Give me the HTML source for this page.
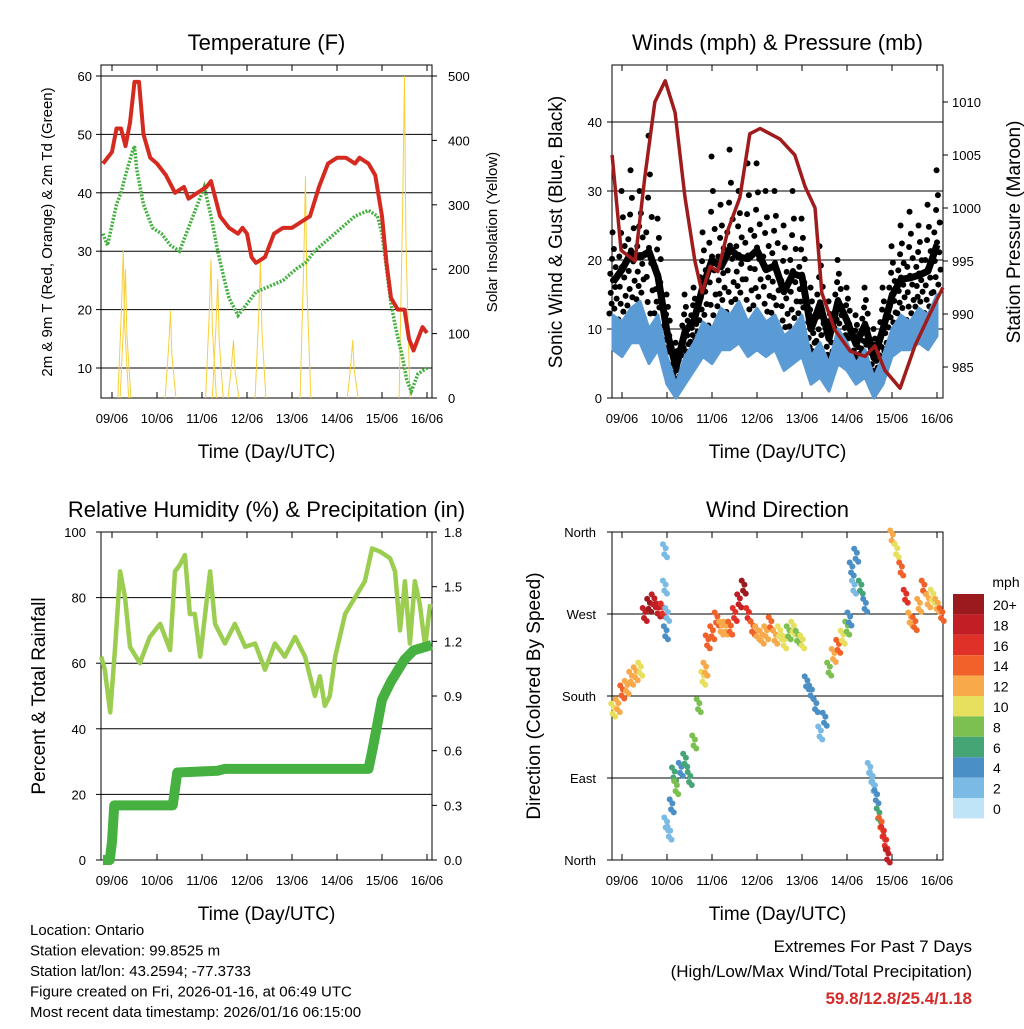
<!DOCTYPE html>
<html><head><meta charset="utf-8"><style>
body{margin:0;background:#fff;}
svg text{font-family:"Liberation Sans",sans-serif;fill:#000;}
</style></head><body>
<svg id="c" width="1024" height="1024" viewBox="0 0 1024 1024" xmlns="http://www.w3.org/2000/svg">
<rect width="1024" height="1024" fill="#fff"/>
<g id="g"></g>
</svg>
<script>
// ---- Temperature data ----
const tempT=[-0.2,0,0.1,0.2,0.3,0.4,0.5,0.6,0.7,0.85,1.0,1.2,1.4,1.6,1.7,1.9,2.1,2.2,2.4,2.6,2.8,2.9,3.0,3.1,3.2,3.4,3.6,3.8,4.0,4.2,4.4,4.6,4.8,5.0,5.2,5.4,5.5,5.7,5.85,6.0,6.1,6.2,6.35,6.5,6.6,6.7,6.8,6.9,7.0];
const tempV=[45,47,51,51,48,52,59,59,50,46,45,43,40,41,39,40,41,42,36,34,33,34,33,29,28,29,33,34,34,35,36,41,45,46,46,45,46,45,43,36,28,22,20,20,15,13,15,17,16];
const dewT=[-0.2,-0.1,0.1,0.2,0.3,0.45,0.5,0.55,0.7,0.9,1.1,1.3,1.5,1.7,1.9,2.05,2.2,2.35,2.5,2.6,2.8,3.0,3.2,3.5,3.8,4.1,4.3,4.5,4.8,5.1,5.4,5.7,5.9,6.0,6.1,6.2,6.3,6.45,6.55,6.65,6.8,7.0];
const dewV=[33,31,38,40,43,47,48,44,38,34,33,31,30,34,38,41,36,30,25,22,19,21,23,24,25,27,28,30,32,34,36,37,36,33,27,21,17,12,8,6,9,10];
const solarT=[0.25,0.3,1.3,2.2,2.35,2.7,3.3,4.3,5.35,6.5];
const solarV=[230,200,135,215,185,90,215,345,90,500];
// ---- Wind data ----
const windT=[-0.2,0,0.2,0.4,0.6,0.8,1.0,1.2,1.4,1.6,1.8,2.0,2.2,2.4,2.6,2.8,3.0,3.2,3.4,3.6,3.8,4.0,4.2,4.4,4.6,4.8,5.0,5.2,5.4,5.6,5.8,6.0,6.2,6.4,6.6,6.8,7.0];
const sonicV=[12,11,13,14,10,12,6,2,6,8,11,10,13,12,14,11,13,11,12,9,10,12,6,8,5,10,8,5,7,3,6,10,12,11,13,12,15];
const sonicLo=[7,6,8,8,5,7,2,0,2,4,6,5,7,7,8,6,7,6,7,4,5,6,2,3,1,5,4,2,3,0,2,6,7,7,8,7,9];
const gustV=[24,30,33,30,38,26,15,8,15,16,24,35,28,36,30,34,34,30,30,25,30,26,16,22,14,20,16,12,16,10,16,22,25,27,25,28,33];
const presT=[-0.22,-0.02,0.29,0.51,0.73,0.96,1.18,1.4,1.62,1.78,1.96,2.13,2.36,2.62,2.84,3.07,3.51,3.84,4.07,4.29,4.44,4.73,5.07,5.4,5.62,5.84,6.18,6.51,6.84,7.13];
const presV=[1005,996,995,1003,1010,1012,1009,1001,995,992,994.5,994,998,1001,1007,1007.5,1006.5,1005,1002,1000,992,988.5,986.5,986,987,984.7,983,987,990,992.5];
// ---- RH / precip ----
const rhT=[-0.24,-0.16,-0.04,0.07,0.18,0.29,0.4,0.62,0.84,1.07,1.29,1.4,1.51,1.62,1.73,1.84,1.96,2.18,2.29,2.51,2.73,2.96,3.18,3.4,3.62,3.84,4.07,4.29,4.51,4.62,4.73,4.84,4.96,5.18,5.4,5.62,5.78,5.96,6.18,6.29,6.4,6.51,6.62,6.73,6.84,6.96,7.07];
const rhV=[62,58,45,65,88,80,65,60,68,72,64,88,90,93,75,75,62,88,72,66,72,65,66,58,66,62,68,62,50,56,47,50,62,75,80,85,95,94,92,88,70,85,66,85,78,65,78];
const rainT=[-0.2,-0.05,0.0,0.05,1.35,1.45,2.35,2.5,5.7,5.8,6.0,6.2,6.5,6.7,7.1];
const rainV=[0,0,0.1,0.3,0.3,0.48,0.49,0.5,0.5,0.62,0.88,0.98,1.1,1.15,1.18];
// ---- Wind direction scatter ----
const dirT=[-0.2,-0.1,0,0.1,0.2,0.3,0.4,0.5,0.6,0.7,0.8,0.9,0.95,0.95,0.97,1.0,0.98,1.05,1.1,1.15,1.2,1.3,1.4,1.5,1.6,1.7,1.8,1.9,1.85,2.0,2.1,2.2,2.3,2.4,2.5,2.6,2.7,2.8,2.9,3.0,3.1,3.2,3.3,3.4,3.5,3.6,3.7,3.8,3.9,4.0,4.1,4.2,4.3,4.4,4.5,4.6,4.7,4.8,4.9,5.0,5.05,5.1,5.15,5.2,5.3,5.4,5.5,5.55,5.6,5.65,5.7,5.75,5.8,5.85,5.9,6.0,6.1,6.2,6.3,6.4,6.5,6.6,6.7,6.8,6.9,7.0,7.1];
const dirV=[165,170,185,190,200,205,210,270,280,285,275,275,340,300,250,270,40,30,60,95,80,100,110,90,130,170,200,240,210,250,265,255,255,255,270,285,300,270,255,250,245,250,260,245,250,240,250,255,245,240,195,185,170,140,155,210,225,235,245,255,265,320,300,335,300,280,100,90,80,70,50,40,30,20,5,355,340,320,290,265,260,280,300,285,290,280,270];
const dirS=[10,12,14,12,13,12,10,18,20,19,18,16,2,2,4,3,2,3,4,6,8,5,6,7,8,9,10,14,12,15,14,13,12,14,16,18,20,17,14,13,12,12,14,12,11,10,9,10,8,10,4,5,4,3,4,8,12,14,10,9,5,4,3,4,6,5,3,2,3,4,6,14,16,16,18,12,10,14,16,13,15,12,14,12,10,13,14];
const cbLabels=["20+","18","16","14","12","10","8","6","4","2","0"];
const cbColors=["#9b1a1d","#c21e26","#df3128","#f1622a","#f8a94a","#e6e05e","#7bc050","#45a575","#4a8fc6","#7bbae4","#bfe4f7"];

const NS="http://www.w3.org/2000/svg";
const G=document.getElementById('g');
function el(tag,attrs,parent){const e=document.createElementNS(NS,tag);for(const k in attrs)e.setAttribute(k,attrs[k]);(parent||G).appendChild(e);return e;}
function txt(x,y,s,size,anchor,name,rot,color){const t=el('text',{x:x,y:y,'font-size':size,'text-anchor':anchor||'middle'});if(rot)t.setAttribute('transform','rotate(-90 '+x+' '+y+')');if(color){t.setAttribute('style','fill:'+color+';font-weight:bold');}t.textContent=s;


return t;}
const days=["09/06","10/06","11/06","12/06","13/06","14/06","15/06","16/06"];
function panel(L,T,R,B,x0,title,name){
  const box=el('rect',{x:L,y:T,width:R-L,height:B-T,fill:'none',stroke:'#000','stroke-width':1});
  
  
  txt((L+R)/2,T-15,title,22,'middle',name+'-title');
  days.forEach((d,i)=>{const x=x0+45*i;el('line',{x1:x,y1:B,x2:x,y2:B-6,stroke:'#000'});el('line',{x1:x,y1:T,x2:x,y2:T+6,stroke:'#000'});txt(x,B+25,d,13,'middle','x-tick-label');});
  txt((L+R)/2,B+60,"Time (Day/UTC)",19,'middle',name+'-x-axis-title');
}
// Panel 1
const tx1=t=>112+45*t, ty1=v=>368-(v-10)*5.84, sy1=v=>398-v*0.644;
panel(101,65,432,398,112,"Temperature (F)","temperature");
[60,50,40,30,20,10].forEach(v=>{el('line',{x1:101,y1:ty1(v),x2:432,y2:ty1(v),stroke:'#000'});el('line',{x1:101,y1:ty1(v),x2:96,y2:ty1(v),stroke:'#000'});txt(92,ty1(v)+5,String(v),13,'end','temp-tick');});
[0,100,200,300,400,500].forEach(v=>{el('line',{x1:432,y1:sy1(v),x2:437,y2:sy1(v),stroke:'#000'});txt(448,sy1(v)+5,String(v),13,'start','solar-tick');});
txt(52,232,"2m & 9m T (Red, Orange) & 2m Td (Green)",15,'middle','temperature-y-axis-title',true);
txt(497,232,"Solar Insolation (Yellow)",15,'middle','solar-y-axis-title',true);
solarT.forEach((t,i)=>{const p=el('polyline',{points:[[tx1(t-0.12),398],[tx1(t-0.04),sy1(solarV[i]*0.6)],[tx1(t),sy1(solarV[i])],[tx1(t+0.03),sy1(solarV[i]*0.5)],[tx1(t+0.12),398]].join(' '),fill:'none',stroke:'#f5d03a','stroke-width':1});

});
let pl=el('polyline',{points:dewT.map((t,i)=>tx1(t)+','+ty1(dewV[i])).join(' '),fill:'none',stroke:'#44b040','stroke-width':3.5,'stroke-dasharray':'2 1.5'});


pl=el('polyline',{points:tempT.map((t,i)=>tx1(t)+','+ty1(tempV[i])).join(' '),fill:'none',stroke:'#d42a20','stroke-width':4,'stroke-linejoin':'round'});


// Panel 2
const x2=t=>622+45*t, wy=v=>398-v*6.9, py=v=>102+(1010-v)*10.6;
panel(612,65,943,398,622,"Winds (mph) & Pressure (mb)","winds");
[0,10,20,30,40].forEach(v=>{el('line',{x1:612,y1:wy(v),x2:943,y2:wy(v),stroke:'#000'});el('line',{x1:612,y1:wy(v),x2:607,y2:wy(v),stroke:'#000'});txt(602,wy(v)+5,String(v),13,'end','wind-tick');});
[985,990,995,1000,1005,1010].forEach(v=>{el('line',{x1:943,y1:py(v),x2:948,y2:py(v),stroke:'#000'});txt(952,py(v)+5,String(v),13,'start','pressure-tick');});
txt(562,232,"Sonic Wind & Gust (Blue, Black)",19,'middle','wind-y-axis-title',true);
txt(1020,232,"Station Pressure (Maroon)",19,'middle','pressure-y-axis-title',true);
const fr=[0.02,0.08,0.14,0.2,0.27,0.34,0.42,0.5,0.58,0.68,0.8,1.0];
const offs=[-0.08,0.03,-0.03,0.08,-0.05,0.05,0,-0.06,0.06,-0.02,0.02,-0.01];
windT.forEach((t,i)=>{fr.forEach((f,k)=>{const v=sonicV[i]+(gustV[i]-sonicV[i])*f;const c=el('circle',{cx:x2(t+offs[k]),cy:wy(v),r:3,fill:'#000'});

});});
pl=el('polyline',{points:windT.map((t,i)=>x2(t)+','+wy(sonicV[i]*0.6+gustV[i]*0.4)).join(' '),fill:'none',stroke:'#000','stroke-width':7,'stroke-linejoin':'round'});


let poly=el('polygon',{points:windT.map((t,i)=>x2(t)+','+wy(sonicV[i])).concat(windT.slice().reverse().map((t,j)=>{const i=windT.length-1-j;return x2(t)+','+wy(sonicLo[i]);})).join(' '),fill:'#5b9bd5',stroke:'#5b9bd5','stroke-width':3,'stroke-linejoin':'round'});


pl=el('polyline',{points:presT.map((t,i)=>x2(t)+','+py(presV[i])).join(' '),fill:'none',stroke:'#a01c1c','stroke-width':3.5,'stroke-linejoin':'round'});


// Panel 3
const ry=v=>860-v*3.28, py3=v=>860-v*182.2;
panel(101,532,432,860,112,"Relative Humidity (%) & Precipitation (in)","humidity");
[0,20,40,60,80,100].forEach(v=>{el('line',{x1:101,y1:ry(v),x2:432,y2:ry(v),stroke:'#000'});el('line',{x1:101,y1:ry(v),x2:96,y2:ry(v),stroke:'#000'});txt(86,ry(v)+5,String(v),13,'end','rh-tick');});
["0.0","0.3","0.6","0.9","1.2","1.5","1.8"].forEach(s=>{const y=py3(parseFloat(s));el('line',{x1:432,y1:y,x2:437,y2:y,stroke:'#000'});txt(444,y+5,s,13,'start','precip-tick');});
txt(45,696,"Percent & Total Rainfall",19,'middle','humidity-y-axis-title',true);
pl=el('polyline',{points:rhT.map((t,i)=>tx1(t)+','+ry(rhV[i])).join(' '),fill:'none',stroke:'#9acd50','stroke-width':4.5,'stroke-linejoin':'round'});


pl=el('polyline',{points:rainT.map((t,i)=>tx1(t)+','+py3(rainV[i])).join(' '),fill:'none',stroke:'#46b040','stroke-width':10,'stroke-linejoin':'round'});


// Panel 4
const dy=d=>860-d*328/360;
panel(612,532,943,860,622,"Wind Direction","wind-direction");
[["North",0],["East",90],["South",180],["West",270],["North",360]].forEach(a=>{const y=dy(a[1]);el('line',{x1:612,y1:y,x2:943,y2:y,stroke:'#000'});el('line',{x1:612,y1:y,x2:607,y2:y,stroke:'#000'});txt(596,y+5,a[0],13,'end','direction-tick');});
txt(540,696,"Direction (Colored By Speed)",19,'middle','direction-y-axis-title',true);
function spdColor(s){let i=Math.min(10,Math.floor(s/2));return cbColors[10-i];}
dirT.forEach((t,i)=>{[-0.04,-0.01,0.02,0.05].forEach((o,k)=>{const c=el('circle',{cx:x2(t+o),cy:dy(dirV[i])+[-6,4,-2,7][k],r:3,fill:spdColor(dirS[i])});

});});
txt(1006,587,"mph",14,'middle','colorbar-title');
cbColors.forEach((c,i)=>{const r=el('rect',{x:953,y:594+i*20.4,width:31,height:20.4,fill:c});


txt(993,610+i*20.4,cbLabels[i],14,'start','colorbar-label');});
// Footer
["Location: Ontario","Station elevation: 99.8525 m","Station lat/lon: 43.2594; -77.3733","Figure created on Fri, 2026-01-16, at 06:49 UTC","Most recent data timestamp: 2026/01/16 06:15:00"].forEach((s,i)=>txt(30,935+i*20.5,s,15,'start','station-info-line'));
txt(972,952,"Extremes For Past 7 Days",17,'end','extremes-title');
txt(972,977,"(High/Low/Max Wind/Total Precipitation)",17,'end','extremes-subtitle');
txt(972,1004,"59.8/12.8/25.4/1.18",17,'end','extremes-values',false,'#d42a2a');
</script>
</body></html>
